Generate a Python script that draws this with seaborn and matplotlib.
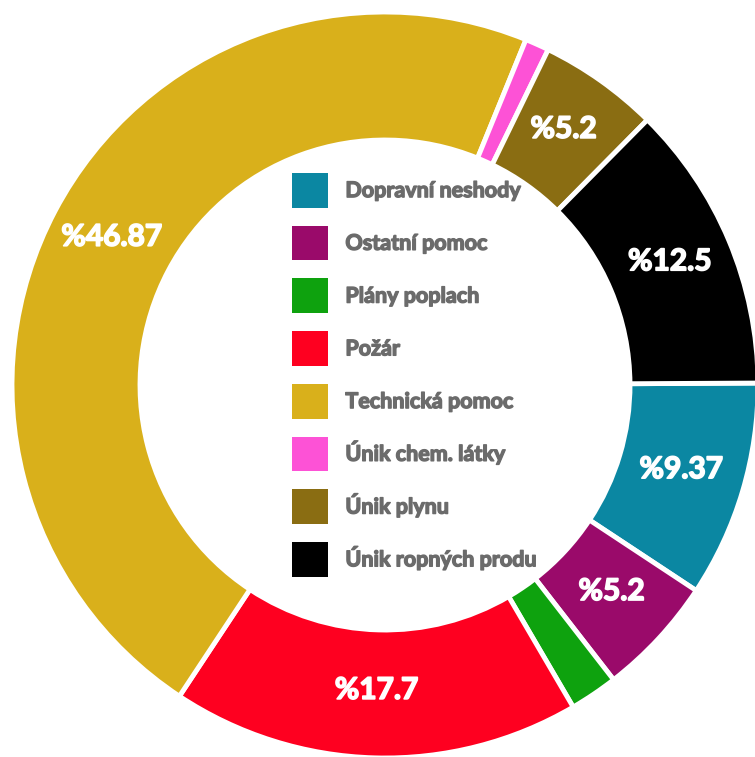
import numpy as np
import matplotlib.pyplot as plt
import matplotlib.patheffects as pe
import seaborn as sns
from matplotlib.patches import Patch

# data
categories = ['Dopravní neshody', 'Ostatní pomoc', 'Plány poplach', 'Požár',
              'Technická pomoc', 'Únik chem. látky', 'Únik plynu', 'Únik ropných produ']
counts = [9, 5, 2, 17, 45, 1, 5, 12]
pct_labels = ['%9.37', '%5.2', '', '%17.7', '%46.87', '', '%5.2', '%12.5']
colors = ['#0b87a2', '#9a0a6a', '#0ea20e', '#fe0020', '#d9b01b', '#fd52d6', '#8a6d12', '#000000']

sns.set_theme(style='white')
plt.rcParams['font.family'] = ['Lato', 'DejaVu Sans']

W, H = 755, 757
fig = plt.figure(figsize=(W / 100, H / 100), dpi=100)
ax = fig.add_axes([0, 0, 1, 1])

R = 373
cx, cy = 385, H - 385
ring = 128

wedges, _ = ax.pie(counts, colors=sns.color_palette(colors), startangle=0.3,
                   counterclock=False, radius=R, center=(cx, cy),
                   wedgeprops=dict(width=ring, edgecolor='white', linewidth=3.5))

# percent labels in the middle of the ring
rmid = R - ring / 2
for w, lab in zip(wedges, pct_labels):
    if not lab:
        continue
    th = np.deg2rad((w.theta1 + w.theta2) / 2)
    ax.text(cx + rmid * np.cos(th), cy + rmid * np.sin(th) + 4, lab,
            ha='center', va='center', color='white', fontsize=21.5, fontweight='bold',
            path_effects=[pe.withStroke(linewidth=1.2, foreground='white')])

handles = [Patch(facecolor=c, edgecolor='none') for c in colors]
leg = ax.legend(handles, categories, loc='upper left', bbox_to_anchor=(292, H - 173),
                bbox_transform=ax.transData, frameon=False, fontsize=15.5,
                handlelength=1.68, handleheight=2.1, handletextpad=0.8,
                labelspacing=0.84, borderpad=0, borderaxespad=0)
for t in leg.get_texts():
    t.set_color('#6b6b6b')
    t.set_fontweight('bold')
    t.set_path_effects([pe.withStroke(linewidth=1.0, foreground='#6b6b6b')])

ax.set_xlim(0, W)
ax.set_ylim(0, H)
ax.set_aspect('auto')
ax.axis('off')

fig.savefig('out.png', dpi=100, facecolor='white')
